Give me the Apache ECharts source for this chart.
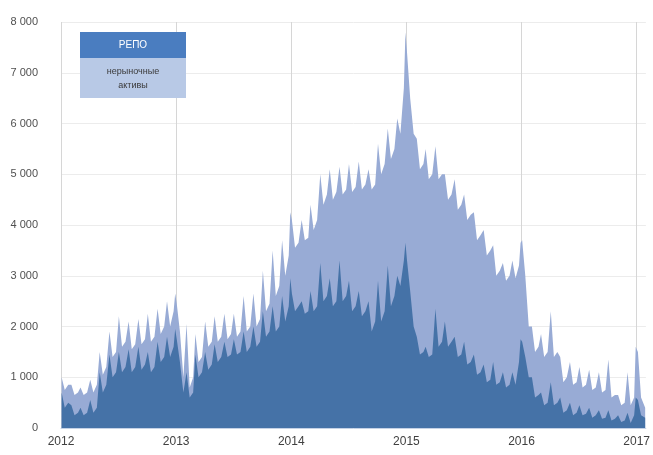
<!DOCTYPE html>
<html>
<head>
<meta charset="utf-8">
<script src="https://cdn.jsdelivr.net/npm/echarts@6/dist/echarts.min.js"></script>
<style>
html,body{margin:0;padding:0;background:#fff;}
#chart{width:653px;height:455px;}
</style>
</head>
<body>
<div id="chart"></div>
<script>
// Observation dates
const dates = [
 '2012-01-03','2012-01-13','2012-01-24','2012-02-03','2012-02-13','2012-02-24','2012-03-03','2012-03-13','2012-03-24',
 '2012-04-03','2012-04-13','2012-04-24','2012-05-03','2012-05-13','2012-05-24','2012-06-03','2012-06-13','2012-06-24',
 '2012-07-03','2012-07-13','2012-07-24','2012-08-03','2012-08-13','2012-08-24','2012-09-03','2012-09-13','2012-09-24',
 '2012-10-03','2012-10-13','2012-10-24','2012-11-03','2012-11-13','2012-11-24','2012-12-03','2012-12-13','2012-12-24','2012-12-29',
 '2013-01-03','2013-01-13','2013-01-24','2013-02-03','2013-02-13','2013-02-24','2013-03-03','2013-03-13','2013-03-24',
 '2013-04-03','2013-04-13','2013-04-24','2013-05-03','2013-05-13','2013-05-24','2013-06-03','2013-06-13','2013-06-24',
 '2013-07-03','2013-07-13','2013-07-24','2013-08-03','2013-08-13','2013-08-24','2013-09-03','2013-09-13','2013-09-24',
 '2013-10-03','2013-10-13','2013-10-24','2013-11-03','2013-11-13','2013-11-24','2013-12-03','2013-12-13','2013-12-24','2013-12-29',
 '2014-01-03','2014-01-13','2014-01-24','2014-02-03','2014-02-13','2014-02-24','2014-03-03','2014-03-13','2014-03-24',
 '2014-04-03','2014-04-13','2014-04-24','2014-05-03','2014-05-13','2014-05-24','2014-06-03','2014-06-13','2014-06-24',
 '2014-07-03','2014-07-13','2014-07-24','2014-08-03','2014-08-13','2014-08-24','2014-09-03','2014-09-13','2014-09-24',
 '2014-10-03','2014-10-13','2014-10-24','2014-11-03','2014-11-13','2014-11-24','2014-12-03','2014-12-13','2014-12-24','2014-12-29',
 '2015-01-03','2015-01-13','2015-01-24','2015-02-03','2015-02-13','2015-02-24','2015-03-03','2015-03-13','2015-03-24',
 '2015-04-03','2015-04-13','2015-04-24','2015-05-03','2015-05-13','2015-05-24','2015-06-03','2015-06-13','2015-06-24',
 '2015-07-03','2015-07-13','2015-07-24','2015-08-03','2015-08-13','2015-08-24','2015-09-03','2015-09-13','2015-09-24',
 '2015-10-03','2015-10-13','2015-10-24','2015-11-03','2015-11-13','2015-11-24','2015-12-03','2015-12-13','2015-12-24','2015-12-29',
 '2016-01-03','2016-01-13','2016-01-24','2016-02-03','2016-02-13','2016-02-24','2016-03-03','2016-03-13','2016-03-24',
 '2016-04-03','2016-04-13','2016-04-24','2016-05-03','2016-05-13','2016-05-24','2016-06-03','2016-06-13','2016-06-24',
 '2016-07-03','2016-07-13','2016-07-24','2016-08-03','2016-08-13','2016-08-24','2016-09-03','2016-09-13','2016-09-24',
 '2016-10-03','2016-10-13','2016-10-24','2016-11-03','2016-11-13','2016-11-24','2016-12-03','2016-12-13','2016-12-24','2016-12-29',
 '2017-01-05','2017-01-15','2017-01-28'
];

// РЕПО
const repo = [
 700,400,500, 450,250,300, 400,250,300, 550,300,400, 1100,700,850, 1450,1000,1100,
 1500,1100,1200, 1550,1100,1200, 1600,1150,1250, 1500,1100,1200, 1700,1300,1400, 1800,1400,1600,1950,
 1750,1300,700, 1100,600,700, 1450,1000,1100, 1500,1150,1250, 1650,1300,1400, 1700,1400,1450,
 1750,1450,1500, 1900,1500,1600, 2000,1600,1700, 2300,1800,1900, 2400,1900,2000, 2600,2100,2400,2950,
 2650,2300,2400, 2500,2250,2300, 2700,2300,2400, 3250,2500,2600, 2950,2400,2500, 3300,2500,2600,
 2900,2300,2400, 2700,2200,2300, 2500,1900,2100, 2900,2100,2300, 3200,2400,2600, 3000,2800,3300,3650,
 3300,2700,2000, 1800,1450,1500, 1600,1400,1450, 2350,1600,1700, 2100,1600,1700, 1800,1400,1450,
 1700,1250,1300, 1450,1050,1100, 1250,900,950, 1300,850,900, 1100,800,850, 1100,850,1300,1750,
 1700,1400,1000, 1000,600,650, 700,450,500, 900,450,500, 600,300,350, 500,250,300,
 450,250,280, 400,200,250, 350,180,200, 350,150,180, 250,120,150, 300,100,250,600,
 550,250,200
];

// нерыночные активы
const nonMarket = [
 300,350,350, 400,400,400, 400,400,400, 400,400,450, 400,350,350, 450,400,400,
 700,500,500, 550,450,450, 550,500,500, 750,600,600, 650,550,600, 700,600,700,700,
 700,600,300, 950,200,300, 400,300,300, 600,450,450, 550,400,400, 550,350,400,
 500,350,400, 700,400,400, 650,400,450, 800,500,550, 1100,700,800, 1100,900,1000,1300,
 1450,1250,1250, 1600,1450,1450, 1700,1600,1700, 1750,1900,2000, 2150,2100,2150, 1850,2100,2100,
 2300,2350,2350, 2550,2500,2500, 2600,2800,2700, 2700,2900,2900, 2700,2900,2900, 3100,3000,3400,4150,
 4100,3800,3800, 3900,3650,3700, 3900,3500,3550, 3200,3300,3300, 2900,2900,2900, 3100,2900,2950,
 2900,2850,2900, 2800,2650,2700, 2650,2500,2550, 2300,2150,2200, 2150,2100,2150, 2200,2100,1900,1900,
 2000,1600,1000, 1000,900,950, 1150,950,1000, 1400,950,1000, 800,600,650, 800,600,600,
 750,550,570, 750,550,550, 750,520,550, 1000,450,470, 400,330,350, 800,350,350,1000,
 950,350,200
];

const yearTicks = [2012, 2013, 2014, 2015, 2016, 2017];
const seriesNames = ['РЕПО', 'нерыночные активы'];
const legendLines = ['нерыночные', 'активы'];

function toYear(s) {
  const [y, m, d] = s.split('-').map(Number);
  const start = Date.UTC(y, 0, 1), end = Date.UTC(y + 1, 0, 1);
  return y + (Date.UTC(y, m - 1, d) - start) / (end - start);
}
const xs = dates.map(toYear);
// Stacked table: bottom layer = РЕПО, top layer = РЕПО + нерыночные активы
const repoData = xs.map((x, i) => [x, repo[i]]);
const stackTopData = xs.map((x, i) => [x, repo[i] + nonMarket[i]]);

function fmtThousands(v) {
  return String(v).replace(/\B(?=(\d{3})+(?!\d))/g, ' ');
}

const FONT = 'Liberation Sans, Arial, sans-serif';
const chart = echarts.init(document.getElementById('chart'), null, {renderer: 'canvas'});
chart.setOption({
  animation: false,
  backgroundColor: '#ffffff',
  textStyle: {fontFamily: FONT},
  grid: {left: 61, right: 7, top: 22, bottom: 27, containLabel: false},
  xAxis: {
    type: 'value',
    min: 2012,
    max: 2017.08,
    interval: 1,
    axisLine: {show: true, lineStyle: {color: '#c5d2e6', width: 1}},
    axisTick: {show: false},
    axisLabel: {
      color: '#404040', fontSize: 12, margin: 8,
      formatter: v => (yearTicks.indexOf(Math.round(v * 1000) / 1000) >= 0 ? String(Math.round(v)) : '')
    },
    splitLine: {show: true, showMaxLine: false, lineStyle: {color: '#d6d6d6', width: 1}}
  },
  yAxis: {
    type: 'value',
    min: 0,
    max: 8000,
    interval: 1000,
    axisLine: {show: false},
    axisTick: {show: false},
    axisLabel: {color: '#505050', fontSize: 11, margin: 23, formatter: v => fmtThousands(v)},
    splitLine: {show: true, lineStyle: {color: '#ececec', width: 1}}
  },
  series: [
    {
      name: seriesNames[1], type: 'line', data: stackTopData, z: 2,
      showSymbol: false, symbol: 'none', silent: true,
      lineStyle: {width: 0}, itemStyle: {color: '#98abd5'},
      areaStyle: {color: '#98abd5', opacity: 1, origin: 'start'}
    },
    {
      name: seriesNames[0], type: 'line', data: repoData, z: 3,
      showSymbol: false, symbol: 'none', silent: true,
      lineStyle: {width: 0}, itemStyle: {color: '#4572a7'},
      areaStyle: {color: '#4572a7', opacity: 1, origin: 'start'}
    }
  ],
  graphic: {
    elements: [
      {type: 'rect', x: 80, y: 32, z: 100, shape: {x: 0, y: 0, width: 106, height: 26}, style: {fill: '#4a7dc0'}},
      {type: 'rect', x: 80, y: 58, z: 100, shape: {x: 0, y: 0, width: 106, height: 40}, style: {fill: '#b8c9e6'}},
      {type: 'text', x: 133, y: 45, z: 101,
        style: {text: seriesNames[0], fill: '#ffffff', font: '10px ' + FONT, align: 'center', verticalAlign: 'middle'}},
      {type: 'text', x: 133, y: 72, z: 101,
        style: {text: legendLines[0], fill: '#3a3a3a', font: '9px ' + FONT, align: 'center', verticalAlign: 'middle'}},
      {type: 'text', x: 133, y: 86, z: 101,
        style: {text: legendLines[1], fill: '#3a3a3a', font: '9px ' + FONT, align: 'center', verticalAlign: 'middle'}}
    ]
  }
});
</script>
</body>
</html>
